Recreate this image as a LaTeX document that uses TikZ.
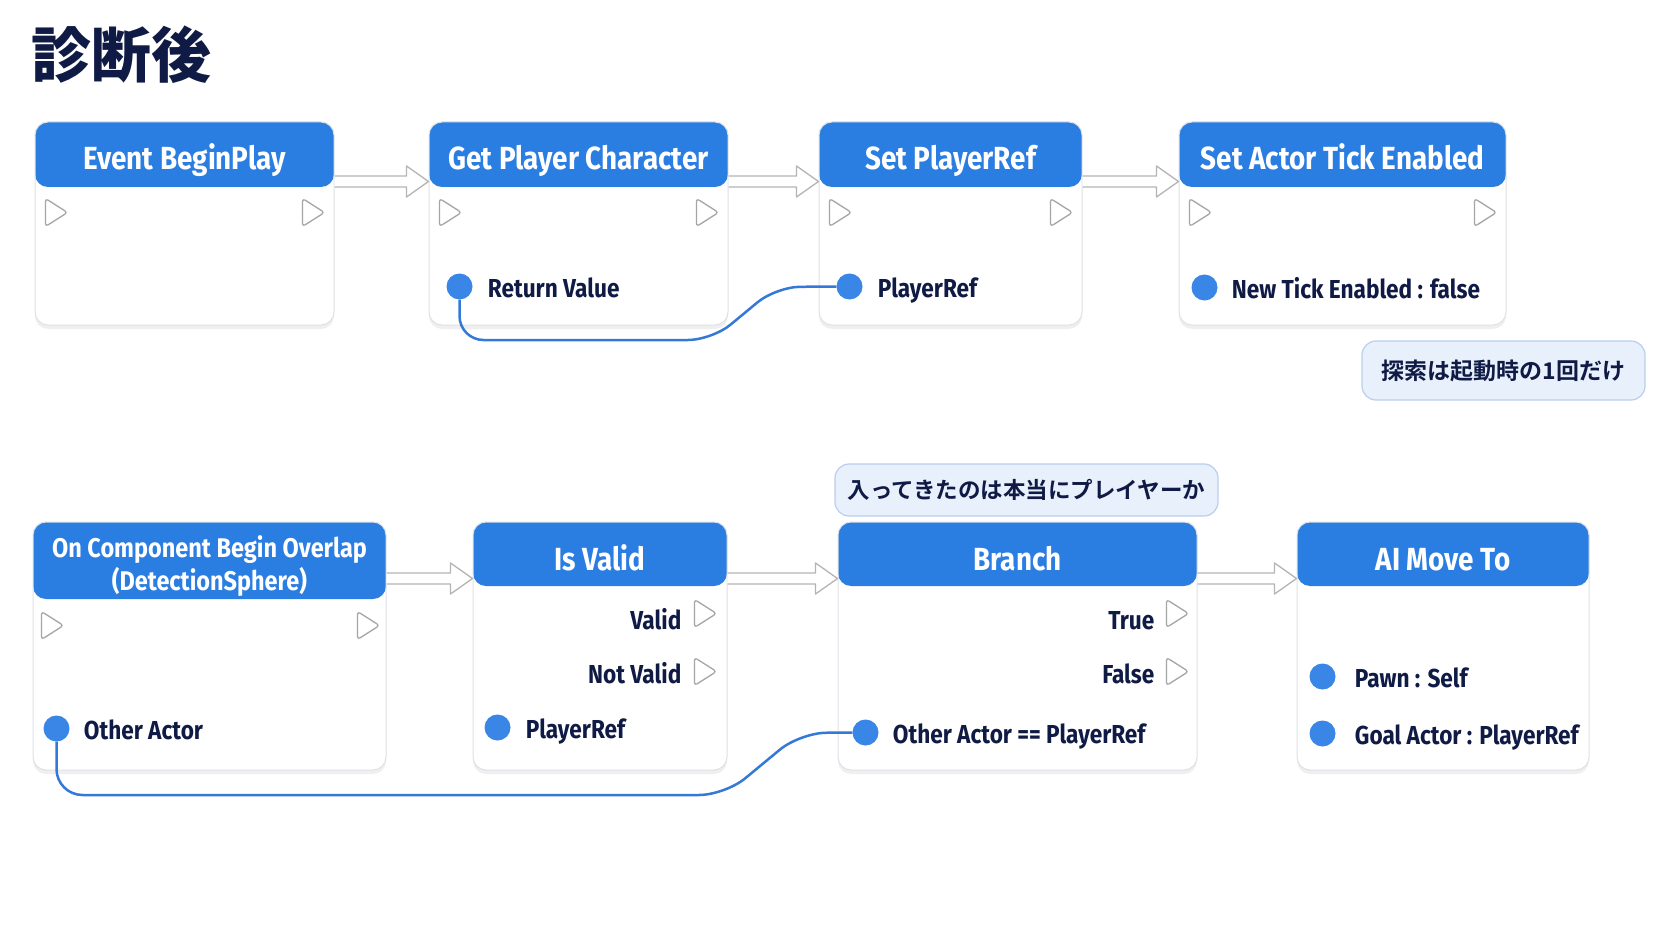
\documentclass[tikz,border=0pt]{standalone}
\usepackage{fontspec}
\setmainfont{Fira Sans}[FakeStretch=0.87]
\newfontfamily\jpfont{Noto Sans CJK JP Bold}
\newfontfamily\jptitle{Noto Sans CJK JP Black}
\usetikzlibrary{
    positioning,
    calc,
    shadows
}

\definecolor{hdrblue}{HTML}{2A7DE1}
\definecolor{pinblue}{HTML}{3A86E6}
\definecolor{inkblue}{HTML}{0F1A45}
\definecolor{wireblue}{HTML}{3479D8}
\definecolor{notefill}{HTML}{E8F0FC}
\definecolor{notedraw}{HTML}{BACEEE}
\definecolor{boxdraw}{HTML}{DDE1E7}
\definecolor{pingray}{HTML}{A5A5A5}
\definecolor{arrgray}{HTML}{B4B4B4}

\begin{document}
\begin{tikzpicture}[
    x=1pt, y=-1pt,
    node distance=16pt,
    bpbox/.style={
        rectangle, draw=boxdraw, line width=1pt, rounded corners=13pt,
        fill=white, inner sep=0pt,
        drop shadow={shadow xshift=0pt, shadow yshift=-4pt, opacity=0.12}
    },
    hdr/.style={
        path picture={\fill[hdrblue] (path picture bounding box.north west)
            rectangle ([yshift=-#1]path picture bounding box.north east);}
    },
    hdrtext/.style={
        text=white, font=\fontsize{32pt}{35pt}\selectfont\bfseries,
        align=center, inner sep=0pt
    },
    onehdr/.style={hdrtext, text height=23pt, text depth=7pt},
    pinlabel/.style={
        text=inkblue, font=\fontsize{26pt}{30pt}\selectfont\bfseries,
        inner sep=0pt, anchor=west, text height=18pt, text depth=0pt,
        yshift=-2pt
    },
    outlabel/.style={pinlabel, anchor=east},
    datapin/.style={circle, fill=pinblue, minimum size=26pt, inner sep=0pt},
    note/.style={
        rectangle, rounded corners=14pt, fill=notefill, draw=notedraw,
        line width=1.2pt, text=inkblue, inner sep=0pt,
        font=\jpfont\fontsize{23pt}{26pt}\selectfont
    },
    wire/.style={draw=wireblue, line width=2.5pt},
    flowarr/.style={
        draw=arrgray, fill=white, line width=1.3pt, line join=round,
        to path={let \p1=(\tikztostart), \p2=(\tikztotarget) in
            (\x1,\y1+5.5pt) -- (\x2-22pt,\y1+5.5pt) -- (\x2-22pt,\y1+15.5pt)
            -- (\x2,\y1) -- (\x2-22pt,\y1-15.5pt) -- (\x2-22pt,\y1-5.5pt)
            -- (\x1,\y1-5.5pt)}
    },
    execpin/.pic={
        \draw[draw=pingray, fill=white, line width=1.3pt, rounded corners=3pt,
            line join=round] (-11,-14) -- (-11,14) -- (11,0) -- cycle;
    }
]

\fill[white] (0,0) rectangle (1672,941);
\useasboundingbox (0,0) rectangle (1672,941);

% Title
\node[text=inkblue, font=\jptitle\fontsize{60pt}{66pt}\selectfont,
    inner sep=0pt, anchor=west] (title) at (31,55) {診断後};

% Row 1: BeginPlay -> Get Player Character -> Set PlayerRef -> Set Actor Tick Enabled
\node[bpbox, hdr=65pt, minimum width=299pt, minimum height=203pt]
    (ebp) at (184.5,223.5) {};
\node[bpbox, hdr=65pt, minimum width=299pt, minimum height=203pt,
    right=94pt of ebp] (gpc) {};
\node[bpbox, hdr=65pt, minimum width=263pt, minimum height=203pt,
    right=90pt of gpc] (spr) {};
\node[bpbox, hdr=65pt, minimum width=327pt, minimum height=203pt,
    right=96pt of spr] (sate) {};

\node[onehdr] (ebp_t) at ([yshift=-40pt]ebp.north) {Event BeginPlay};
\node[onehdr] (gpc_t) at ([yshift=-40pt]gpc.north) {Get Player Character};
\node[onehdr] (spr_t) at ([yshift=-40pt]spr.north) {Set PlayerRef};
\node[onehdr] (sate_t) at ([yshift=-40pt]sate.north) {Set Actor Tick Enabled};

\foreach \b in {ebp, gpc, spr, sate} {
    \pic at ([xshift=22pt, yshift=-91pt]\b.north west) {execpin};
    \pic at ([xshift=-21pt, yshift=-91pt]\b.north east) {execpin};
}

\node[datapin] (gpc_rv) at ([xshift=31pt, yshift=-165pt]gpc.north west) {};
\node[pinlabel, right=15pt of gpc_rv] (gpc_rv_l) {Return Value};
\node[datapin] (spr_pr) at ([xshift=31pt, yshift=-165pt]spr.north west) {};
\node[pinlabel, right=15pt of spr_pr] (spr_pr_l) {PlayerRef};
\node[datapin] (sate_nt) at ([xshift=26pt, yshift=-166pt]sate.north west) {};
\node[pinlabel, right=14pt of sate_nt] (sate_nt_l) {New Tick Enabled : false};

\node[note, minimum width=283pt, minimum height=59pt]
    (note_once) at (1503.5,370.5) {探索は起動時の1回だけ};

% Row 2: Overlap -> Is Valid -> Branch -> AI Move To
\node[bpbox, hdr=77pt, minimum width=353pt, minimum height=248pt]
    (ocbo) at (209.5,646) {};
\node[bpbox, hdr=64pt, minimum width=254pt, minimum height=248pt,
    right=86pt of ocbo] (isv) {};
\node[bpbox, hdr=64pt, minimum width=359pt, minimum height=248pt,
    right=110pt of isv] (br) {};
\node[bpbox, hdr=64pt, minimum width=292pt, minimum height=248pt,
    right=99pt of br] (aimt) {};

\node[hdrtext, font=\fontsize{27pt}{33pt}\selectfont\bfseries] (ocbo_t)
    at ([yshift=-45pt]ocbo.north) {On Component Begin Overlap\\(DetectionSphere)};
\node[onehdr] (isv_t) at ([yshift=-41pt]isv.north) {Is Valid};
\node[onehdr] (br_t) at ([yshift=-41pt]br.north) {Branch};
\node[onehdr] (aimt_t) at ([yshift=-41pt]aimt.north) {AI Move To};

\pic at ([xshift=20pt, yshift=-104pt]ocbo.north west) {execpin};
\pic at ([xshift=-18pt, yshift=-104pt]ocbo.north east) {execpin};
\pic at ([xshift=-22pt, yshift=-92pt]isv.north east) {execpin};
\pic at ([xshift=-22pt, yshift=-150pt]isv.north east) {execpin};
\pic at ([xshift=-20pt, yshift=-92pt]br.north east) {execpin};
\pic at ([xshift=-20pt, yshift=-150pt]br.north east) {execpin};

\node[outlabel] (isv_v) at ([xshift=-46pt, yshift=-97pt]isv.north east) {Valid};
\node[outlabel] (isv_nv) at ([xshift=-46pt, yshift=-151pt]isv.north east) {Not Valid};
\node[outlabel] (br_tr) at ([xshift=-43pt, yshift=-97pt]br.north east) {True};
\node[outlabel] (br_fa) at ([xshift=-43pt, yshift=-151pt]br.north east) {False};

\node[datapin] (ocbo_oa) at ([xshift=24pt, yshift=-207pt]ocbo.north west) {};
\node[pinlabel, right=14pt of ocbo_oa] (ocbo_oa_l) {Other Actor};
\node[datapin] (isv_pr) at ([xshift=25pt, yshift=-206pt]isv.north west) {};
\node[pinlabel, right=15pt of isv_pr] (isv_pr_l) {PlayerRef};
\node[datapin] (br_oa) at ([xshift=28pt, yshift=-211pt]br.north west) {};
\node[pinlabel, right=14pt of br_oa] (br_oa_l) {Other Actor == PlayerRef};
\node[datapin] (aimt_pw) at ([xshift=26pt, yshift=-155pt]aimt.north west) {};
\node[pinlabel, right=19pt of aimt_pw] (aimt_pw_l) {Pawn : Self};
\node[datapin] (aimt_ga) at ([xshift=26pt, yshift=-212pt]aimt.north west) {};
\node[pinlabel, right=19pt of aimt_ga] (aimt_ga_l) {Goal Actor : PlayerRef};

\node[note, minimum width=383pt, minimum height=52pt,
    font=\jpfont\fontsize{22.5pt}{26pt}\selectfont]
    (note_player) at (1026.5,490) {入ってきたのは本当にプレイヤーか};

% ------------------------------- Arrows --------------------------------------
\draw[flowarr] ([yshift=-60pt]ebp.north east) to ([yshift=-60pt]gpc.north west);
\draw[flowarr] ([yshift=-60pt]gpc.north east) to ([yshift=-60pt]spr.north west);
\draw[flowarr] ([yshift=-60pt]spr.north east) to ([yshift=-60pt]sate.north west);

\draw[flowarr] ([yshift=-57pt]ocbo.north east) to ([yshift=-57pt]isv.north west);
\draw[flowarr] ([yshift=-57pt]isv.north east) to ([yshift=-57pt]br.north west);
\draw[flowarr] ([yshift=-57pt]br.north east) to ([yshift=-57pt]aimt.north west);

\draw[wire, rounded corners=24pt] (gpc_rv.south) |- (712,340) -- (776,287)
    -- (spr_pr.west);
\draw[wire, rounded corners=26pt] (ocbo_oa.south) |- (725,795) -- (800,733)
    -- (br_oa.west);

\end{tikzpicture}
\end{document}
